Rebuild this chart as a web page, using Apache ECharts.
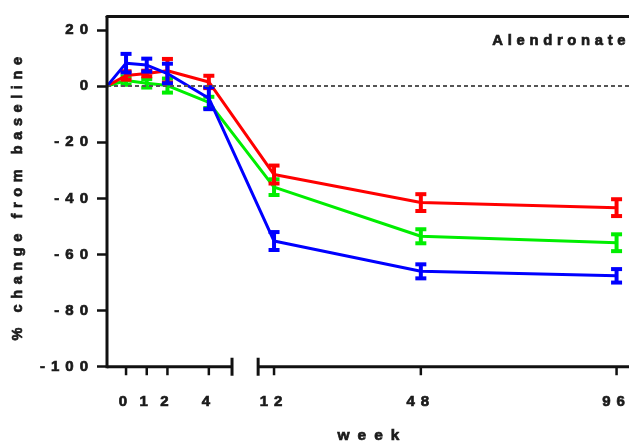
<!DOCTYPE html>
<html>
<head>
<meta charset="utf-8">
<script src="https://cdn.jsdelivr.net/npm/echarts@6/dist/echarts.min.js"></script>
<style>
html,body{margin:0;padding:0;background:#fff;}
#chart{width:629px;height:443px;}
</style>
</head>
<body>
<div id="chart"></div>
<script>
// ---------------- data ----------------
const WEEKS = [0, 1, 2, 4, 12, 48, 96];
const WEEK_LABELS = ['0', '1', '2', '4', '12', '48', '96'];
const BASELINE_WEEK = -0.92;           // lines start from 0 % at the y axis
const RED_MEAN   = [3.8, 4.5, 5.5, 1.5, -31.5, -41.5, -43.3];
const RED_SE     = [1.5, 1.0, 4.2, 2.2, 3.2, 3.0, 3.0];
const GREEN_MEAN = [2.0, 1.0, 0.2, -5.8, -36.0, -53.5, -55.8];
const GREEN_SE   = [1.5, 1.5, 2.5, 2.0, 2.8, 2.5, 3.0];
const BLUE_MEAN  = [8.2, 7.5, 4.5, -4.3, -55.2, -66.0, -67.6];
const BLUE_SE    = [3.3, 2.3, 3.5, 3.9, 3.2, 2.5, 2.4];
const Y_TICKS = [-100, -80, -60, -40, -20, 0, 20];
const Y_MIN = -100, Y_MAX = 25;
const Y_FLOOR = -103.3;                // room below the axis for the x ticks
const TITLE = 'Alendronate';
const X_NAME = 'week';
const Y_NAME = '% change from baseline';

// broken x axis: weeks 0–5 on one scale, weeks 8–99 compressed
const AXIS_BREAK = [5.12, 8.1];
const X_END_WEEK = 99.05;
const SEG2_AT_12 = 7.15;
const SEG2_SCALE = 0.197;
function pos(w) { return w <= AXIS_BREAK[0] ? w : SEG2_AT_12 + (w - 12) * SEG2_SCALE; }

// ---------------- letter spacing (GraphPad-style wide text) ----------------
const SPACING = { '15': 6, '14.5': 5.6, '14.8': 4.7, '15.5': 8 };
function spacingFor(font) {
  const m = /(\d+(?:\.\d+)?)px/.exec(font || '');
  return m ? (SPACING[String(+m[1])] || 0) : 0;
}
(function () {
  const proto = CanvasRenderingContext2D.prototype;
  ['fillText', 'strokeText'].forEach(function (fn) {
    const orig = proto[fn];
    proto[fn] = function (t, x, y, w) {
      try { this.letterSpacing = spacingFor(this.font) + 'px'; } catch (e) {}
      return w === undefined ? orig.call(this, t, x, y) : orig.call(this, t, x, y, w);
    };
  });
  const mctx = document.createElement('canvas').getContext('2d');
  echarts.setPlatformAPI({
    measureText(text, font) {
      mctx.font = font || '12px sans-serif';
      try { mctx.letterSpacing = spacingFor(mctx.font) + 'px'; } catch (e) {}
      return mctx.measureText(text);
    }
  });
})();

// ---------------- chart ----------------
const FONT = 'Liberation Sans';
const INK = '#1a1a1a';
const chart = echarts.init(document.getElementById('chart'), null, { renderer: 'canvas' });

function textStyle(size) {
  return { fontFamily: FONT, fontSize: size, fontWeight: 'bold', color: INK,
           textBorderColor: INK, textBorderWidth: 0.7 };
}
function lineSeries(mean, color, z) {
  return {
    type: 'line', xAxisIndex: 0, yAxisIndex: 0, z: z,
    data: [[pos(BASELINE_WEEK), 0]].concat(WEEKS.map((w, i) => [pos(w), mean[i]])),
    symbol: 'none', showSymbol: false,
    lineStyle: { color: color, width: 3 },
    silent: true, animation: false
  };
}
function errSeries(mean, se, color, z) {
  return {
    type: 'custom', xAxisIndex: 0, yAxisIndex: 0, z: z,
    data: WEEKS.map((w, i) => [pos(w), mean[i] - se[i], mean[i] + se[i]]),
    encode: { x: 0, y: [1, 2] },
    renderItem(params, api) {
      const x = api.value(0);
      const lo = api.coord([x, api.value(1)]);
      const hi = api.coord([x, api.value(2)]);
      const hw = 5.5;
      const style = { stroke: color, lineWidth: 4 };
      return {
        type: 'group', children: [
          { type: 'line', shape: { x1: lo[0], y1: lo[1], x2: hi[0], y2: hi[1] }, style: style },
          { type: 'line', shape: { x1: lo[0] - hw, y1: lo[1], x2: lo[0] + hw, y2: lo[1] }, style: style },
          { type: 'line', shape: { x1: hi[0] - hw, y1: hi[1], x2: hi[0] + hw, y2: hi[1] }, style: style }
        ]
      };
    },
    silent: true, animation: false
  };
}

const option = {
  animation: false,
  backgroundColor: '#ffffff',
  title: {
    text: TITLE, right: -2, top: 31, padding: 0,
    textStyle: textStyle(14.8)
  },
  grid: { left: 107, right: 0, top: 16, bottom: 67, containLabel: false, outerBoundsMode: 'none' },
  xAxis: [{
    type: 'value', position: 'bottom',
    min: pos(BASELINE_WEEK), max: pos(X_END_WEEK),
    name: X_NAME, nameLocation: 'middle', nameGap: 48,
    nameTextStyle: Object.assign(textStyle(15.5), { padding: [0, 0, 0, 9] }),
    axisLine: { show: false, onZero: false },
    splitLine: { show: false },
    axisTick: { show: false },
    axisLabel: Object.assign(textStyle(15), { show: true, margin: 15, customValues: WEEKS.map(pos),
      formatter: function (v) {
        let best = 0, d = Infinity;
        WEEKS.forEach((w, i) => { const dd = Math.abs(pos(w) - v); if (dd < d) { d = dd; best = i; } });
        return WEEK_LABELS[best];
      } })
  }, {
    type: 'value', position: 'top',
    min: pos(BASELINE_WEEK), max: pos(X_END_WEEK),
    axisLine: { show: true, onZero: false, lineStyle: { color: '#111', width: 3 } },
    axisTick: { show: false }, axisLabel: { show: false }, splitLine: { show: false }
  }],
  yAxis: [{
    type: 'value', min: Y_FLOOR, max: Y_MAX,
    name: Y_NAME, nameLocation: 'middle', nameGap: 78,
    nameTextStyle: Object.assign(textStyle(14.5), { padding: [0, 0, 0, 0] }),
    axisLine: { show: false, onZero: false },
    axisTick: { show: true, inside: false, length: 10, customValues: Y_TICKS,
      lineStyle: { color: '#111', width: 2.5 } },
    axisLabel: Object.assign(textStyle(15), { show: true, margin: 13, customValues: Y_TICKS }),
    splitLine: { show: false }
  }],
  series: [
    {
      // zero reference line
      type: 'line', xAxisIndex: 0, yAxisIndex: 0, z: 1,
      data: [[pos(BASELINE_WEEK), 0]], symbol: 'none', silent: true,
      lineStyle: { width: 0 },
      markLine: {
        silent: true, symbol: 'none', label: { show: false },
        lineStyle: { type: [4, 3], color: '#555', width: 2 },
        data: [{ yAxis: 0 }], animation: false
      }
    },
    {
      // axes: y axis line, broken x axis segments, break caps and x ticks
      type: 'custom', xAxisIndex: 0, yAxisIndex: 0, z: 5, clip: false,
      data: [[BASELINE_WEEK, AXIS_BREAK[0], 0, 1], [AXIS_BREAK[1], X_END_WEEK, 1, 0]],
      renderItem(params, api) {
        const w0 = api.value(0), w1 = api.value(1);
        const a = api.coord([pos(w0), Y_MIN]);
        const b = api.coord([pos(w1), Y_MIN]);
        const style = { stroke: '#111', lineWidth: 3 };
        const ch = [{ type: 'line', shape: { x1: a[0], y1: a[1], x2: b[0], y2: b[1] }, style: style }];
        if (params.dataIndex === 0) {
          const top = api.coord([pos(w0), Y_MAX]);
          ch.push({ type: 'line', shape: { x1: a[0], y1: a[1] + 1.5, x2: top[0], y2: top[1] }, style: style });
        }
        if (api.value(2)) ch.push({ type: 'line', shape: { x1: a[0], y1: a[1] - 9, x2: a[0], y2: a[1] + 9 }, style: style });
        if (api.value(3)) ch.push({ type: 'line', shape: { x1: b[0], y1: b[1] - 9, x2: b[0], y2: b[1] + 9 }, style: style });
        WEEKS.forEach(function (w) {
          if (w >= w0 && w <= w1) {
            const p = api.coord([pos(w), Y_MIN]);
            ch.push({ type: 'line', shape: { x1: p[0], y1: p[1], x2: p[0], y2: p[1] + 8.5 },
                      style: { stroke: '#111', lineWidth: 2.5 } });
          }
        });
        return { type: 'group', children: ch };
      },
      silent: true, animation: false
    },
    lineSeries(GREEN_MEAN, '#00ee00', 2), errSeries(GREEN_MEAN, GREEN_SE, '#00ee00', 2),
    lineSeries(RED_MEAN, '#ff0000', 3), errSeries(RED_MEAN, RED_SE, '#ff0000', 3),
    lineSeries(BLUE_MEAN, '#0000ff', 4), errSeries(BLUE_MEAN, BLUE_SE, '#0000ff', 4)
  ]
};
chart.setOption(option);
</script>
</body>
</html>
